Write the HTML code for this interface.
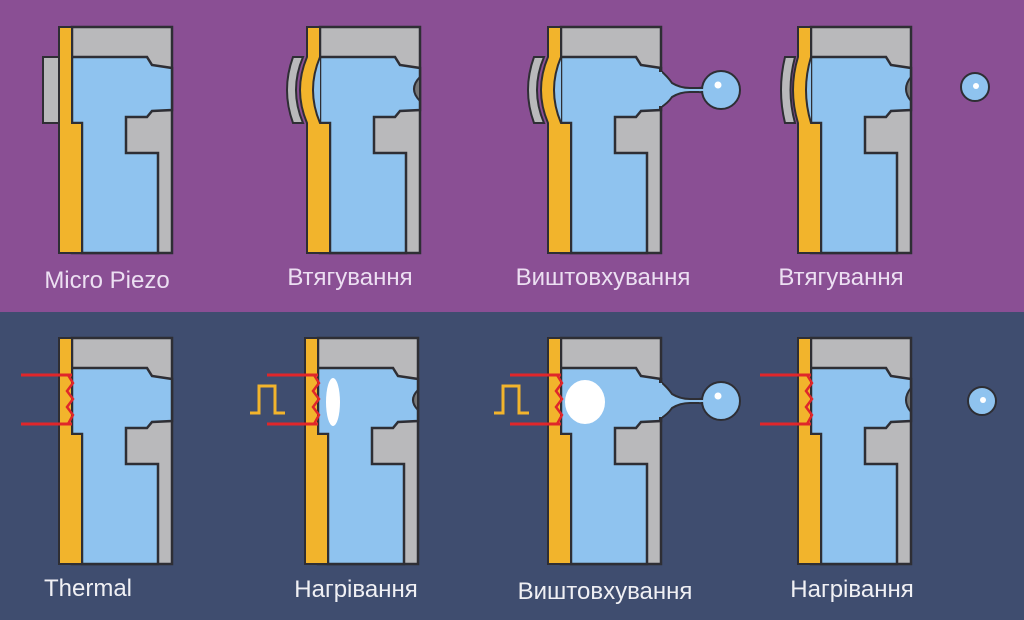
<!DOCTYPE html>
<html><head><meta charset="utf-8"><style>
html,body{margin:0;padding:0;width:1024px;height:620px;overflow:hidden;}
svg{display:block}
text{font-family:"Liberation Sans","DejaVu Sans",sans-serif;font-size:24px;}
</style></head><body>
<svg width="1024" height="620" viewBox="0 0 1024 620" xmlns="http://www.w3.org/2000/svg">
<defs>
<g id="body">
  <rect x="13" y="0" width="100" height="226" fill="#b9b9bb" stroke="#2e2e34" stroke-width="2.5"/>
  <path d="M13,30 L88,30 L93,38 L113,41 L113,83 L93,84 L88,90 L67,90 L67,126 L99,126 L99,226 L23,226 L23,96 L13,96 Z" fill="#8fc3ef" stroke="#2e2e34" stroke-width="2.5"/>
</g>
<g id="yel">
  <path d="M0,0 L13,0 L13,96 L23,96 L23,226 L0,226 Z" fill="#f2b42c" stroke="#2e2e34" stroke-width="2"/>
</g>
<g id="yelcurve">
  <path d="M13,30 Q-1,63 13,96 Z" fill="#8fc3ef"/>
  <path d="M0,0 L13,0 L13,30 Q-1,63 13,96 L23,96 L23,226 L0,226 L0,96 Q-14,63 0,30 Z" fill="#f2b42c" stroke="#2e2e34" stroke-width="2"/>
</g>
<g id="yelcurve2">
  <path d="M13,30 Q3,63 13,96 Z" fill="#8fc3ef"/>
  <path d="M0,0 L13,0 L13,30 Q3,63 13,96 L23,96 L23,226 L0,226 L0,96 Q-10,63 0,30 Z" fill="#f2b42c" stroke="#2e2e34" stroke-width="2"/>
</g>
<g id="piezoC"><path d="M-4,30 Q-18,63 -4,96 L-14,96 Q-26,63 -14,30 Z" fill="#b9b9bb" stroke="#2e2e34" stroke-width="2"/></g>
<g id="piezoC2"><path d="M-3,30 Q-12,63 -3,96 L-13,96 Q-21,63 -13,30 Z" fill="#b9b9bb" stroke="#2e2e34" stroke-width="2"/></g>
<g id="drop"><circle r="14" fill="#8fc3ef" stroke="#2e2e34" stroke-width="2"/><circle cx="1" cy="-1" r="3" fill="#fff"/></g>
<g id="eject">
  <path d="M112,43 Q120,50 124,56 Q132,61 142,61 L158,61 L158,65 L142,65 Q132,65 124,70 Q120,76 112,81 Z" fill="#8fc3ef" stroke="#2e2e34" stroke-width="2"/>
  <rect x="110" y="45" width="4" height="34" fill="#8fc3ef"/>
  <path d="M150,61 Q160,61 164,57 L164,69 Q160,65 150,65 Z" fill="#8fc3ef" stroke="#2e2e34" stroke-width="2"/>
  <circle cx="173" cy="63" r="19" fill="#8fc3ef" stroke="#2e2e34" stroke-width="2"/>
  <path d="M146,62 L165,62 L165,64 L146,64 Z" fill="#8fc3ef"/>
  <rect x="146" y="62" width="12" height="2" fill="#8fc3ef"/>
  <circle cx="170" cy="58" r="3.5" fill="#fff"/>
</g>
<g id="heater">
  <line x1="-38" y1="37" x2="13" y2="37" stroke="#e0262a" stroke-width="3"/>
  <line x1="-38" y1="86" x2="13" y2="86" stroke="#e0262a" stroke-width="3"/>
  <polyline points="9,37 14,45 8,53 14,61 8,69 14,77 9,86" fill="none" stroke="#e0262a" stroke-width="2.5"/>
</g>
<g id="pulse"><polyline points="0,30 9,30 9,3 25,3 25,30 35,30" fill="none" stroke="#f2b42c" stroke-width="3"/></g>
</defs>
<rect x="0" y="0" width="1024" height="312" fill="#8a4f94"/>
<rect x="0" y="312" width="1024" height="308" fill="#3f4d6f"/>

<!-- top row -->
<g transform="translate(59,27)">
  <rect x="-16" y="30" width="16" height="66" fill="#b9b9bb" stroke="#2e2e34" stroke-width="2"/>
  <use href="#body"/><use href="#yel"/>
</g>
<g transform="translate(307,27)">
  <use href="#piezoC"/>
  <use href="#body"/><use href="#yelcurve"/>
  <path d="M113,50 Q101,62 113,74 Z" fill="#777" stroke="#2e2e34" stroke-width="2"/>
</g>
<g transform="translate(548,27)">
  <use href="#piezoC"/>
  <use href="#body"/><use href="#yelcurve"/>
  <use href="#eject"/>
</g>
<g transform="translate(798,27)">
  <use href="#piezoC2"/>
  <use href="#body"/><use href="#yelcurve2"/>
  <path d="M113,50 Q103,62 113,74 Z" fill="#777" stroke="#2e2e34" stroke-width="2"/>
</g>
<use href="#drop" transform="translate(975,87)"/>

<text x="107" y="288" fill="#ecdff2" text-anchor="middle">Micro Piezo</text>
<text x="350" y="285" fill="#ecdff2" text-anchor="middle">Втягування</text>
<text x="603" y="285" fill="#ecdff2" text-anchor="middle">Виштовхування</text>
<text x="841" y="285" fill="#ecdff2" text-anchor="middle">Втягування</text>

<!-- bottom row -->
<g transform="translate(59,338)">
  <use href="#body"/><use href="#yel"/><use href="#heater"/>
</g>
<g transform="translate(305,338)">
  <use href="#body"/><use href="#yel"/><use href="#heater"/>
  <ellipse cx="28" cy="64" rx="7" ry="24" fill="#fff"/>
  <path d="M113,52 Q103,62 113,72 Z" fill="#777" stroke="#2e2e34" stroke-width="2"/>
</g>
<use href="#pulse" transform="translate(250,383)"/>
<g transform="translate(548,338)">
  <use href="#body"/><use href="#yel"/><use href="#heater"/>
  <ellipse cx="37" cy="64" rx="20" ry="22" fill="#fff"/>
  <use href="#eject"/>
</g>
<use href="#pulse" transform="translate(494,383)"/>
<g transform="translate(798,338)">
  <use href="#body"/><use href="#yel"/><use href="#heater"/>
  <path d="M113,50 Q103,62 113,74 Z" fill="#777" stroke="#2e2e34" stroke-width="2"/>
</g>
<use href="#drop" transform="translate(982,401)"/>

<text x="88" y="596" fill="#f0f0f4" text-anchor="middle">Thermal</text>
<text x="356" y="597" fill="#f0f0f4" text-anchor="middle">Нагрівання</text>
<text x="605" y="599" fill="#f0f0f4" text-anchor="middle">Виштовхування</text>
<text x="852" y="597" fill="#f0f0f4" text-anchor="middle">Нагрівання</text>
</svg>
</body></html>
